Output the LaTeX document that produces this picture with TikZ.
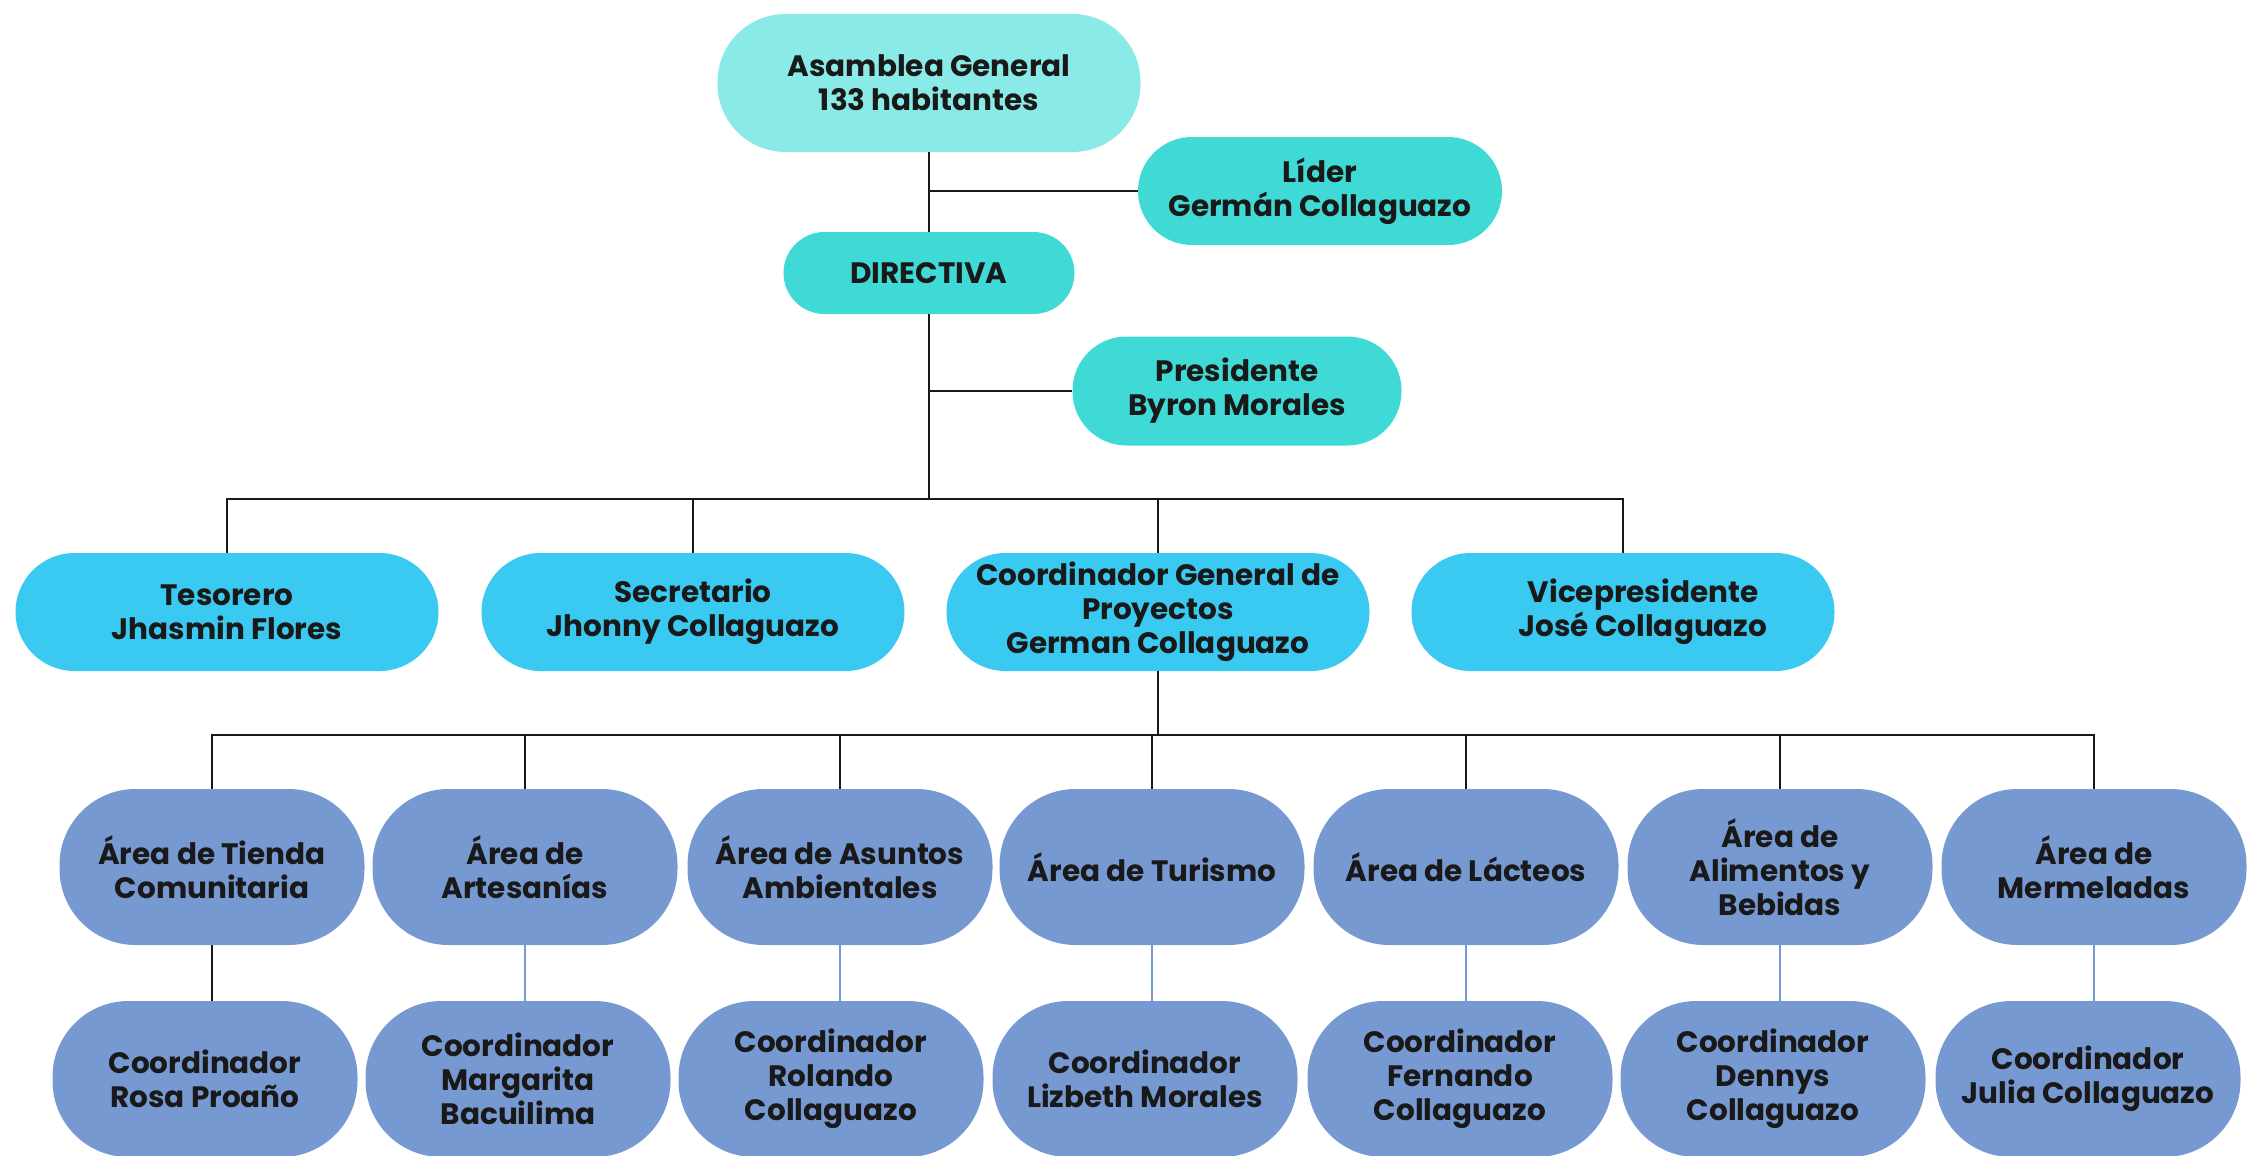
\documentclass[tikz,border=0pt]{standalone}
\usepackage{fontspec}
\setmainfont{Poppins}
\usepackage{tikz}

\definecolor{asambleacol}{RGB}{137,234,232}
\definecolor{directivacol}{RGB}{64,218,214}
\definecolor{cargocol}{RGB}{58,201,240}
\definecolor{areacol}{RGB}{119,153,209}

\begin{document}
\begin{tikzpicture}[x=1pt,y=-1pt,
		caja/.style={fill=#1,inner sep=0pt,align=center,text=black!90,
			font=\bfseries\fontsize{29.5}{34}\selectfont},
		cargo/.style={caja=cargocol,minimum width=423pt,minimum height=118pt,rounded corners=59pt},
		area/.style={caja=areacol,minimum width=305pt,minimum height=156pt,rounded corners=76pt},
		linea/.style={line width=2pt,black!90}]
		\useasboundingbox (0,0) rectangle (2248,1156);
		% cabecera
		\node[caja=asambleacol,minimum width=423pt,minimum height=138pt,rounded corners=68pt] (asamblea) at (929,83) {Asamblea General\\133 habitantes};
		\node[caja=directivacol,minimum width=364pt,minimum height=108pt,rounded corners=54pt] (lider) at (1320,191) {Líder\\Germán Collaguazo};
		\node[caja=directivacol,minimum width=291pt,minimum height=82pt,rounded corners=41pt] (directiva) at (929,273) {DIRECTIVA};
		\node[caja=directivacol,minimum width=329pt,minimum height=109pt,rounded corners=54pt] (presidente) at (1237,391) {Presidente\\Byron Morales};
		% cargos
		\node[cargo] (tesorero) at (227,612) {Tesorero\\Jhasmin Flores};
		\node[cargo] (secretario) at (693,612) {Secretario\\Jhonny Collaguazo};
		\node[cargo] (coordgen) at (1158,612) {Coordinador General de\\Proyectos\\German Collaguazo};
		\node[cargo] (vice) at (1623,612) {\hspace{40pt}Vicepresidente\\\hspace{40pt}José Collaguazo};
		% areas
		\node[area] (tienda) at (212,867) {Área de Tienda\\Comunitaria};
		\node[area] (artesanias) at (525,867) {Área de\\Artesanías};
		\node[area] (asuntos) at (840,867) {Área de Asuntos\\Ambientales};
		\node[area] (turismo) at (1152,867) {Área de Turismo};
		\node[area] (lacteos) at (1466,867) {Área de Lácteos};
		\node[area] (alimentos) at (1780,867) {Área de\\Alimentos y\\Bebidas};
		\node[area] (mermeladas) at (2094,867) {Área de\\Mermeladas};
		% coordinadores
		\node[area] (rosa) at (205,1079) {Coordinador\\Rosa Proaño};
		\node[area] (margarita) at (518,1079) {Coordinador\\Margarita\\Bacuilima};
		\node[area] (rolando) at (831,1079) {Coordinador\\Rolando\\Collaguazo};
		\node[area] (lizbeth) at (1145,1079) {Coordinador\\Lizbeth Morales};
		\node[area] (fernando) at (1460,1079) {Coordinador\\Fernando\\Collaguazo};
		\node[area] (dennys) at (1773,1079) {Coordinador\\Dennys\\Collaguazo};
		\node[area] (julia) at (2088,1079) {Coordinador\\Julia Collaguazo};
		\coordinate (bus1) at (929,499);
		\coordinate (bus2) at (1158,735);
		% lineas
		\draw[linea] (asamblea.south) -- (directiva.north);
		\draw[linea] (asamblea.south |- lider.west) -- (lider.west);
		\draw[linea] (directiva.south) -- (bus1);
		\draw[linea] (directiva.south |- presidente.west) -- (presidente.west);
		\draw[linea] (tesorero.north) |- (bus1) -| (vice.north);
		\draw[linea] (secretario.north) -- (secretario.north |- bus1);
		\draw[linea] (coordgen.north) -- (coordgen.north |- bus1);
		\draw[linea] (coordgen.south) -- (bus2);
		\draw[linea] (tienda.north) |- (bus2) -| (mermeladas.north);
		\foreach \a in {artesanias,asuntos,turismo,lacteos,alimentos}
			\draw[linea] (\a.north) -- (\a.north |- bus2);
		\draw[linea] (tienda.south) -- (tienda.south |- rosa.north);
		\foreach \a/\c in {artesanias/margarita,asuntos/rolando,turismo/lizbeth,lacteos/fernando,alimentos/dennys,mermeladas/julia}
			\draw[line width=1.5pt,areacol] (\a.south) -- (\a.south |- \c.north);
\end{tikzpicture}
\end{document}
